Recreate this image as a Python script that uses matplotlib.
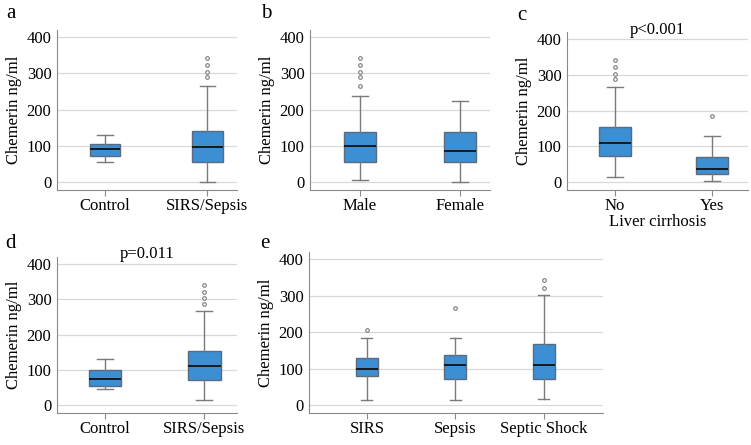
import matplotlib
matplotlib.use('Agg')
import matplotlib.pyplot as plt

plt.rcParams['font.family'] = ['Liberation Serif', 'DejaVu Serif']

# values (ng/ml)
a_labels = ['Control', 'SIRS/Sepsis']
a_whislo = [54, 1]
a_q1 = [73, 55]
a_med = [92, 97]
a_q3 = [104, 140]
a_whishi = [131, 265]
a_fliers = [[], [289, 303, 322, 342]]

b_labels = ['Male', 'Female']
b_whislo = [7, 0]
b_q1 = [56, 54]
b_med = [99, 85]
b_q3 = [139, 137]
b_whishi = [238, 223]
b_fliers = [[265, 289, 303, 322, 343], []]

c_labels = ['No', 'Yes']
c_whislo = [13, 2]
c_q1 = [73, 23]
c_med = [110, 36]
c_q3 = [153, 71]
c_whishi = [265, 128]
c_fliers = [[288, 303, 321, 341], [184]]

d_labels = ['Control', 'SIRS/Sepsis']
d_whislo = [46, 15]
d_q1 = [54, 71]
d_med = [75, 110]
d_q3 = [99, 154]
d_whishi = [132, 266]
d_fliers = [[], [288, 303, 322, 342]]

e_labels = ['SIRS', 'Sepsis', 'Septic Shock']
e_whislo = [14, 15, 16]
e_q1 = [80, 71, 70]
e_med = [100, 111, 109]
e_q3 = [129, 136, 167]
e_whishi = [184, 184, 303]
e_fliers = [[205], [265], [322, 342]]

BOX = '#3d8fd4'
EDGE = '#5a6b80'
GRAY = '#7a7a7a'

W, H = 751, 445
fig = plt.figure(figsize=(W / 100, H / 100), dpi=100)


def mkax(l, r, t, b):
    return fig.add_axes([l / W, 1 - b / H, (r - l) / W, (b - t) / H])


def panel(ax, labels, lo, q1, med, q3, hi, fl, width, xlim, pval=None, py=1.0, xlabel=None):
    stats = []
    for i in range(len(labels)):
        stats.append({'whislo': lo[i], 'q1': q1[i], 'med': med[i], 'q3': q3[i],
                      'whishi': hi[i], 'fliers': fl[i], 'label': labels[i]})
    pos = list(range(1, len(labels) + 1))
    ax.bxp(stats, positions=pos, widths=width, patch_artist=True,
           boxprops=dict(facecolor=BOX, edgecolor=EDGE, linewidth=1.0),
           medianprops=dict(color='#111111', linewidth=1.3),
           whiskerprops=dict(color=GRAY, linewidth=1.0),
           capprops=dict(color=GRAY, linewidth=1.0),
           capwidths=width * 0.5,
           flierprops=dict(marker='o', markersize=2.6, markerfacecolor='white',
                           markeredgecolor=GRAY, markeredgewidth=0.8),
           zorder=3)
    ax.set_xlim(*xlim)
    ax.set_ylim(-22, 420)
    ax.set_yticks([0, 100, 200, 300, 400])
    ax.yaxis.grid(True, color='#d8d8d8', linewidth=0.9)
    ax.set_axisbelow(True)
    for s in ['top', 'right']:
        ax.spines[s].set_visible(False)
    for s in ['left', 'bottom']:
        ax.spines[s].set_color('#8a8a8a')
    ax.tick_params(axis='y', length=0, labelsize=12, pad=4)
    ax.tick_params(axis='x', length=4, color='#8a8a8a', labelsize=12, pad=2)
    ax.set_ylabel('Chemerin ng/ml', fontsize=12, labelpad=3)
    if pval:
        ax.text(0.5, py, pval, transform=ax.transAxes, fontsize=12,
                ha='center', va='center', clip_on=False)
    if xlabel:
        ax.set_xlabel(xlabel, fontsize=12, labelpad=0)


ax = mkax(57, 237, 30, 190)
panel(ax, a_labels, a_whislo, a_q1, a_med, a_q3, a_whishi, a_fliers, 0.30, (0.53, 2.29))

ax = mkax(310, 490, 30, 190)
panel(ax, b_labels, b_whislo, b_q1, b_med, b_q3, b_whishi, b_fliers, 0.32, (0.5, 2.3))

ax = mkax(567, 748, 32, 190)
panel(ax, c_labels, c_whislo, c_q1, c_med, c_q3, c_whishi, c_fliers, 0.33, (0.505, 2.37),
      pval='p<0.001', py=1.013, xlabel='Liver cirrhosis')

ax = mkax(57, 237, 257, 413)
panel(ax, d_labels, d_whislo, d_q1, d_med, d_q3, d_whishi, d_fliers, 0.33, (0.515, 2.33),
      pval='p=0.011', py=1.019)

ax = mkax(309, 603, 252, 413)
panel(ax, e_labels, e_whislo, e_q1, e_med, e_q3, e_whishi, e_fliers, 0.25, (0.345, 3.67))

# panel letters
for letter, x, y in [('a', 11, 14), ('b', 266, 14), ('c', 522, 16), ('d', 10, 243), ('e', 265, 243)]:
    fig.text(x / W, 1 - y / H, letter, fontsize=15, ha='center', va='center')

fig.savefig('out.png', dpi=100)
